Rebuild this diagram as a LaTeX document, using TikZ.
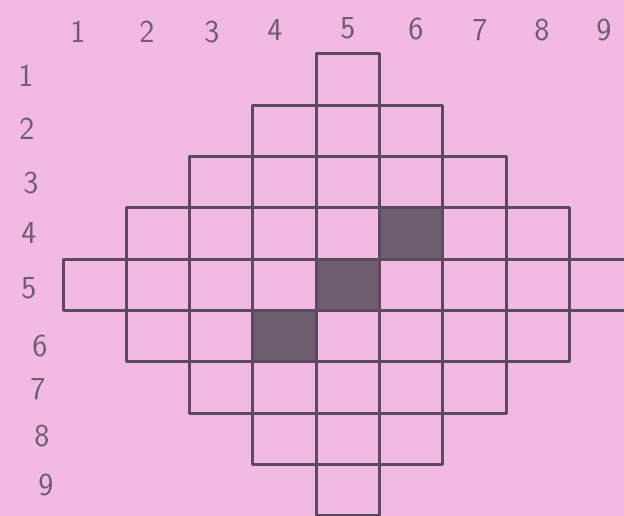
\documentclass[tikz,border=0pt]{standalone}
\definecolor{paper}{RGB}{242,186,226}
\definecolor{pencil}{RGB}{92,74,96}
\definecolor{shade}{RGB}{110,94,112}
\definecolor{ink}{RGB}{110,92,115}
\tikzset{
  cellbox/.style={draw=pencil, line width=3pt, line join=round},
  shadebox/.style={fill=shade},
  digit/.style={text=ink, font=\sffamily\fontsize{32}{32}\selectfont, inner sep=0pt}
}
\begin{document}
\begin{tikzpicture}[x=1pt,y=-1pt]
\useasboundingbox (0,0) rectangle (624,516);
\fill[paper] (0,0) rectangle (624,516);
\begin{scope}
\clip (0,0) rectangle (624,516);
\def\cw{63.3}
\def\rh{51.3}
\def\xo{63}
\def\yo{54}
% shaded cells
\foreach \r/\c in {4/6,5/5,6/4} {
  \fill[shadebox] ({\xo+(\c-1)*\cw},{\yo+(\r-1)*\rh}) rectangle ++(\cw,\rh);
}
% grid cells
\foreach \r in {1,...,9} {
  \foreach \c in {1,...,9} {
    \pgfmathtruncatemacro\d{abs(\r-5)+abs(\c-5)}
    \ifnum\d<5
      \draw[cellbox] ({\xo+(\c-1)*\cw},{\yo+(\r-1)*\rh}) rectangle ++(\cw,\rh);
    \fi
  }
}
\end{scope}
% column numbers
\node[digit] (t1) at (78,32) {1};
\node[digit] (t2) at (147,32) {2};
\node[digit] (t3) at (212,32) {3};
\node[digit] (t4) at (275,30) {4};
\node[digit] (t5) at (348,28) {5};
\node[digit] (t6) at (416,29) {6};
\node[digit] (t7) at (480,30) {7};
\node[digit] (t8) at (542,30) {8};
\node[digit] (t9) at (604,30) {9};
% row numbers
\node[digit] (l1) at (26,76) {1};
\node[digit] (l2) at (27,129) {2};
\node[digit] (l3) at (31,183) {3};
\node[digit] (l4) at (29,233) {4};
\node[digit] (l5) at (29,288) {5};
\node[digit] (l6) at (40,346) {6};
\node[digit] (l7) at (38,389) {7};
\node[digit] (l8) at (42,436) {8};
\node[digit] (l9) at (46,485) {9};
\end{tikzpicture}
\end{document}
